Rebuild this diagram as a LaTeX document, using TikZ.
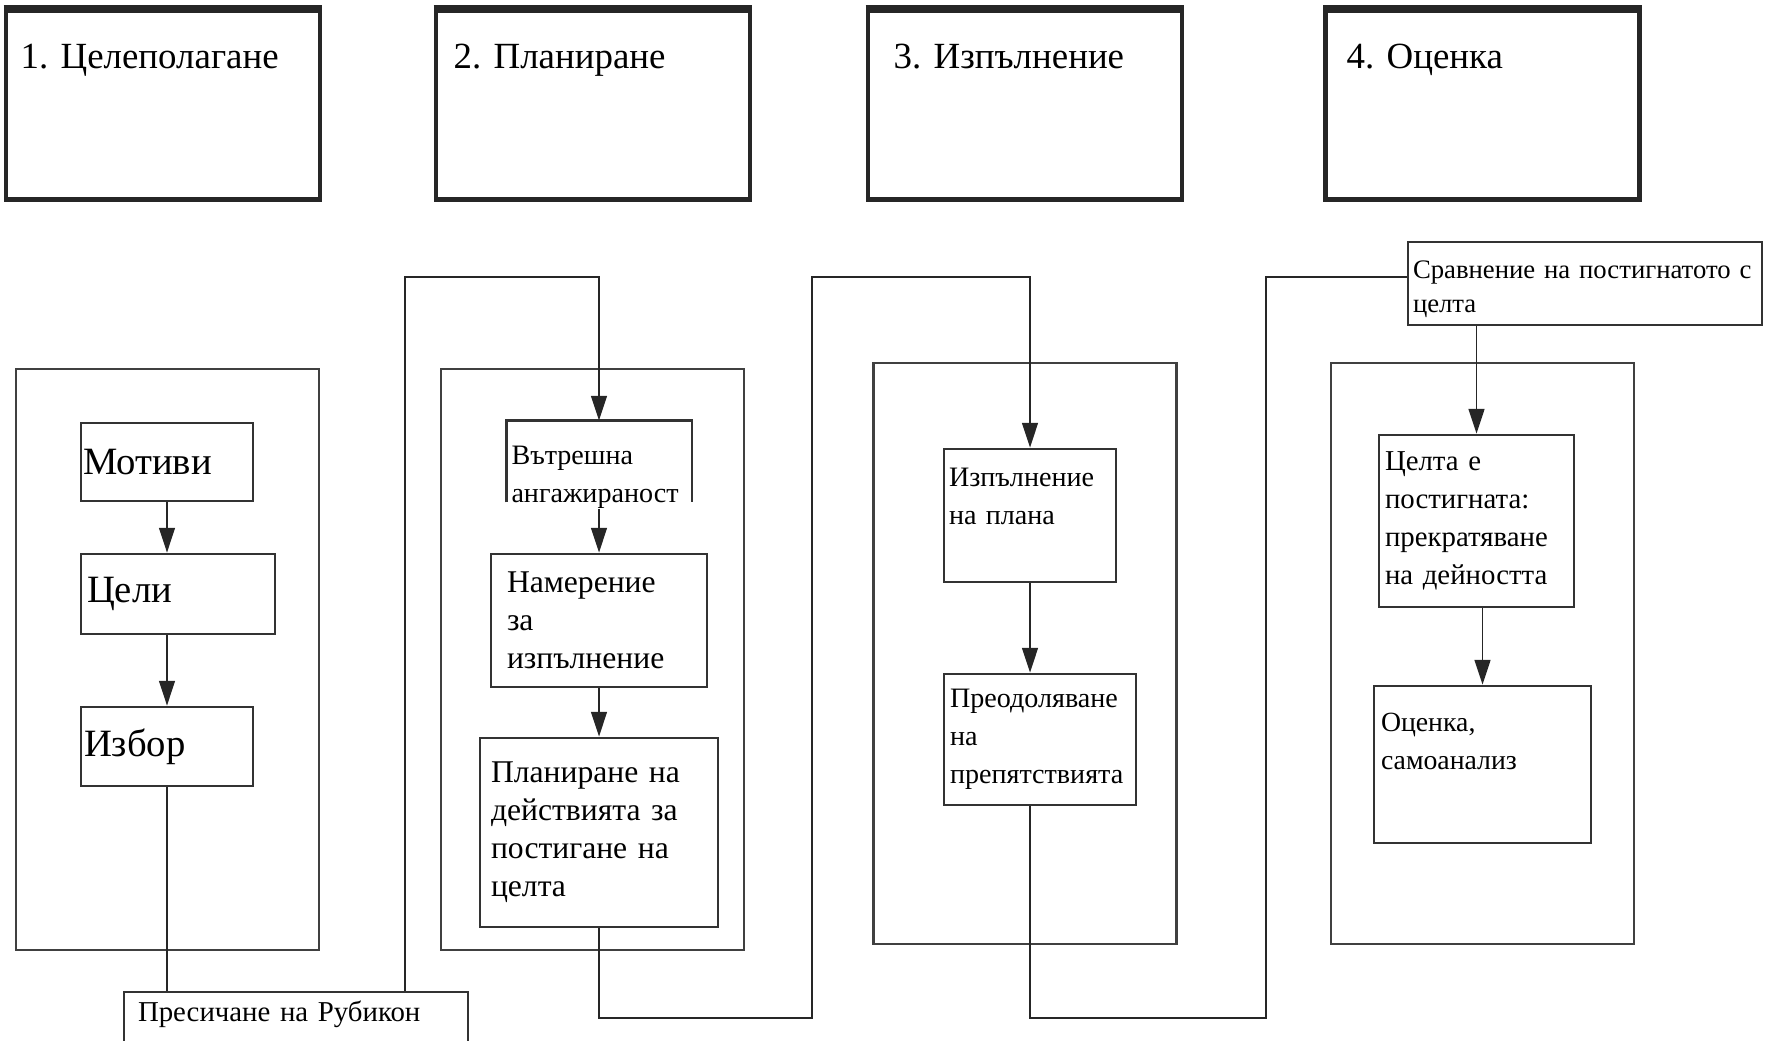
\documentclass[tikz,border=0pt]{standalone}
\usepackage{fontspec}
\setmainfont{Liberation Serif}
\usetikzlibrary{arrows.meta}

\begin{document}
\begin{tikzpicture}[x=0.1mm, y=-0.1mm,
  stage/.style = {draw=black!85,line width=1.4pt,minimum width=31.4mm,
  minimum height=18.9mm},
  title/.style = {anchor=base west,inner sep=0pt,font=\fontsize{10.5}{12}\selectfont},
  frame/.style = {draw=black!75,line width=0.6pt,minimum width=30.3mm,
  minimum height=58.1mm},
  box/.style = {draw=black!80,line width=0.8pt,align=left,inner xsep=0.6mm,
  inner ysep=0pt,font=\fontsize{8.2}{10.8}\selectfont},
  big/.style = {font=\fontsize{11}{13}\selectfont},
  mid/.style = {font=\fontsize{9}{10.8}\selectfont},
  small/.style = {font=\fontsize{8}{10.8}\selectfont},
  link/.style = {draw=black!85,line width=0.5pt},
  arr/.style = {link,-{Triangle[length=7pt,width=4.5pt]}}]
 \clip (0,0) rectangle (1773,1041);
 % stages
 \node[stage] (st1) at (163,105) {};
 \node[stage] (st2) at (593,105) {};
 \node[stage] (st3) at (1025,105) {};
 \node[stage] (st4) at (1482.5,105) {};
 \foreach \s in {st1,st2,st3,st4}
  \draw[black!85,line width=2.4pt] ([yshift=-0.3pt]\s.north west) -- ([yshift=-0.3pt]\s.north east);
 \node[title] (t1) at (20,68) {1. Целеполагане};
 \node[title] (t2) at (453,68) {2. Планиране};
 \node[title] (t3) at (893,68) {3. Изпълнение};
 \node[title] (t4) at (1346,68) {4. Оценка};
 % frames
 \node[frame] (f1) at (167.5,659.5) {};
 \node[frame] (f2) at (592.5,659.5) {};
 \node[frame] (f3) at (1025,653.5) {};
 \node[frame] (f4) at (1482.5,653.5) {};
 % column 1
 \node[box,big,inner xsep=0.2mm,text width=16.8mm,minimum height=7.8mm]
  (m) at (167,462) {Мотиви};
 \node[box,big,text width=18.2mm,minimum height=8mm]
  (c) at (178,594) {Цели};
 \node[box,big,inner xsep=0.3mm,text width=16.6mm,minimum height=7.9mm]
  (i) at (167,746.5) {Избор};
 \node[box,inner xsep=1.4mm,text width=31.6mm,text height=8.3pt,text depth=11pt]
  (r) at (296,1026) {Пресичане на Рубикон};
 % column 2
 \node[box,small,draw=none,inner xsep=0.4mm,text width=17.5mm,
  text height=12pt,text depth=10.5pt]
  (v) at (599,461.5) {Вътрешна\\ангажираност};
 \draw[draw=black!80,line width=0.8pt] (v.south west) -- (v.north west)
  -- (v.north east) -- (v.south east);
 \node[box,mid,inner xsep=1.6mm,text width=18.4mm,minimum height=13.3mm]
  (n) at (599,620.5) {Намерение\\за\\изпълнение};
 \node[box,mid,inner xsep=1.1mm,text width=21.6mm,minimum height=18.9mm]
  (p) at (599,832.5) {Планиране на\\действията за\\постигане на\\целта};
 % column 3
 \node[box,small,inner xsep=0.5mm,text width=16.2mm,minimum height=13.3mm]
  (e) at (1030,515.5) {Изпълнение\\на плана\\\mbox{}};
 \node[box,small,inner xsep=0.6mm,text width=18mm,minimum height=13.1mm]
  (o) at (1040,739.5) {Преодоляване\\на\\препятствията};
 % column 4
 \node[box,inner xsep=0.5mm,text width=34.4mm,text height=10.5pt,text depth=13.1pt,
  font=\fontsize{7.6}{9.6}\selectfont]
  (s) at (1585,283.5) {Сравнение на постигнатото с\\целта};
 \node[box,inner xsep=0.6mm,text width=18.3mm,minimum height=17.2mm]
  (g) at (1476.5,521) {Целта е\\постигната:\\прекратяване\\на дейността};
 \node[box,inner xsep=0.7mm,text width=20.3mm,minimum height=15.7mm,
  font=\fontsize{7.9}{10.8}\selectfont]
  (k) at (1482.5,764.5) {Оценка,\\самоанализ\\[2.5pt]\mbox{}};
 % connectors
 \coordinate (railA) at (405,277);
 \coordinate (lowB) at (812,1018);
 \coordinate (railB) at (812,277);
 \coordinate (lowC) at (1266,1018);
 \coordinate (railC) at (1266,277);
 \draw[arr] (m.south) -- (m.south |- c.north);
 \draw[arr] (i.north |- c.south) -- (i.north);
 \draw[link] (i.south) -- (i.south |- r.north);
 \draw[arr] (r.north -| railA) -- (railA) -| (v.north);
 \draw[arr] ([yshift=-2pt]v.south) -- (n.north);
 \draw[arr] (n.south) -- (p.north);
 \draw[arr] (p.south) |- (lowB) -- (railB) -| (e.north);
 \draw[arr] (e.south) -- (e.south |- o.north);
 \draw[link] (e.south |- o.south) |- (lowC) -- (railC) -- (s.west |- railC);
 \draw[arr] (g.north |- s.south) -- (g.north);
 \draw[arr] (k.north |- g.south) -- (k.north);
\end{tikzpicture}
\end{document}
